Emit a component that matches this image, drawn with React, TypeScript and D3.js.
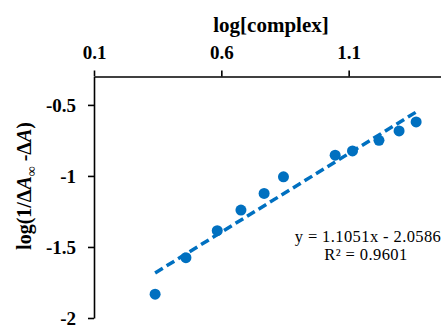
import * as d3 from "d3";
import React, { useEffect, useRef } from "react";

// log[complex] values
const xValues = [0.34, 0.461, 0.584, 0.677, 0.768, 0.844, 1.047, 1.115, 1.219, 1.298, 1.365];
// log(1/ΔA∞ - ΔA) values
const yValues = [-1.832, -1.575, -1.385, -1.24, -1.123, -1.006, -0.854, -0.824, -0.749, -0.683, -0.62];

const xTicks = [0.1, 0.6, 1.1];
const xTickLabels = ["0.1", "0.6", "1.1"];
const yTicks = [-2, -1.5, -1, -0.5];
const yTickLabels = ["-2", "-1.5", "-1", "-0.5"];

const slope = 1.1051;
const intercept = -2.0586;
const eqLabel = "y = 1.1051x - 2.0586";
const r2Label = "R² = 0.9601";

const App: React.FC = () => {
  const svgRef = useRef<SVGSVGElement | null>(null);

  useEffect(() => {
    const svg = d3.select(svgRef.current);
    const height = 325;
    const margin = { top: 76.5, left: 94, bottom: 7 };
    const font = "'Liberation Serif', 'Times New Roman', serif";

    svg.selectAll("*").remove(); // 초기화

    // axis runs on past the right edge (up to 1.6)
    const x = d3.scaleLinear().domain([0.1, 1.6]).range([margin.left, margin.left + 382]);
    const y = d3.scaleLinear().domain([-2, -0.3]).range([height - margin.bottom, margin.top]);

    // x axis on top
    const gx = svg
      .append("g")
      .attr("transform", `translate(0,${margin.top})`)
      .call(
        d3
          .axisTop(x)
          .tickValues(xTicks)
          .tickSizeInner(6)
          .tickSizeOuter(0)
          .tickPadding(11.5)
          .tickFormat((_, i) => xTickLabels[i])
      );

    // y axis
    const gy = svg
      .append("g")
      .attr("transform", `translate(${margin.left},0)`)
      .call(
        d3
          .axisLeft(y)
          .tickValues(yTicks)
          .tickSizeInner(6)
          .tickSizeOuter(0)
          .tickPadding(12)
          .tickFormat((_, i) => yTickLabels[i])
      );

    [gx, gy].forEach((g) => {
      g.select(".domain").attr("stroke", "#000").attr("stroke-width", 1.6);
      g.selectAll(".tick line").attr("stroke", "#000").attr("stroke-width", 1.6);
      g.selectAll(".tick text")
        .attr("fill", "#000")
        .style("font-family", font)
        .style("font-weight", "bold")
        .style("font-size", "19px");
    });

    // titles
    svg
      .append("text")
      .attr("x", 271)
      .attr("y", 31.5)
      .attr("text-anchor", "middle")
      .style("font-family", font)
      .style("font-weight", "bold")
      .style("font-size", "21px")
      .text("log[complex]");

    const yl = svg
      .append("text")
      .attr("transform", "translate(30.5,186) rotate(-90)")
      .attr("text-anchor", "middle")
      .style("font-family", font)
      .style("font-weight", "bold")
      .style("font-size", "20px");
    yl.append("tspan").text("log(1/Δ");
    yl.append("tspan").style("font-style", "italic").text("A");
    yl.append("tspan").attr("dy", 5).style("font-size", "14px").style("font-weight", "normal").text("∞");
    yl.append("tspan").attr("dy", -5).text(" -Δ");
    yl.append("tspan").style("font-style", "italic").text("A");
    yl.append("tspan").text(")");

    // trend line
    const x0 = d3.min(xValues) as number;
    const x1 = d3.max(xValues) as number;
    const trend: [number, number][] = [
      [x0, slope * x0 + intercept],
      [x1, slope * x1 + intercept],
    ];
    svg
      .append("path")
      .datum(trend)
      .attr("fill", "none")
      .attr("stroke", "#0070C0")
      .attr("stroke-width", 3.5)
      .attr("stroke-dasharray", "9,4.5")
      .attr(
        "d",
        d3
          .line<[number, number]>()
          .x((d) => x(d[0]))
          .y((d) => y(d[1]))
      );

    // points
    svg
      .append("g")
      .selectAll("circle")
      .data(xValues)
      .join("circle")
      .attr("cx", (d) => x(d))
      .attr("cy", (_, i) => y(yValues[i]))
      .attr("r", 5.5)
      .attr("fill", "#0070C0");

    // equation
    const eq = svg
      .append("text")
      .attr("text-anchor", "middle")
      .style("font-family", font)
      .style("font-size", "16.5px")
      .style("letter-spacing", "0.4px")
      .attr("fill", "#000");
    eq.append("tspan").attr("x", 368).attr("y", 241.5).text(eqLabel);
    eq.append("tspan").attr("x", 366).attr("y", 259.5).text(r2Label);
  }, []);

  return (
    <svg
      ref={svgRef}
      width={441}
      height={325}
      style={{ position: "absolute", left: 0, top: 0, background: "#fff" }}
    ></svg>
  );
};

export default App;
